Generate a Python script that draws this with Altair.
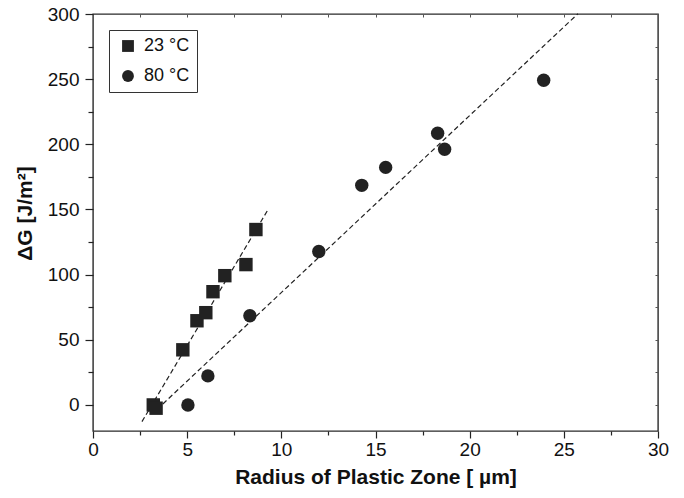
import altair as alt
import pandas as pd

# ---- data ----
series_names = ["23 °C", "80 °C"]
x_23 = [3.2, 3.35, 4.77, 5.52, 5.99, 6.37, 7.0, 8.12, 8.65]
y_23 = [0, -2.5, 42.3, 64.6, 70.8, 86.9, 99.2, 107.7, 134.6]
x_80 = [5.04, 6.1, 8.33, 11.99, 14.27, 15.54, 18.3, 18.67, 23.93]
y_80 = [0, 22.3, 68.5, 117.7, 168.5, 182.3, 208.5, 196.2, 249.2]

fit_extent_23 = [2.6, 9.3]
fit_extent_80 = [3.4, 25.75]

x_tick_values = [0, 2.5, 5, 7.5, 10, 12.5, 15, 17.5, 20, 22.5, 25, 27.5, 30]
y_tick_values = [0, 25, 50, 75, 100, 125, 150, 175, 200, 225, 250, 275, 300]

df = pd.DataFrame({
    "x": x_23 + x_80,
    "y": y_23 + y_80,
    "series": [series_names[0]] * len(x_23) + [series_names[1]] * len(x_80),
})

FONT = "Liberation Sans"
INK = "#222222"

x_scale = alt.Scale(domain=[0, 30], nice=False, zero=False)
y_scale = alt.Scale(domain=[-20, 300], nice=False, zero=False)

x_axis = alt.Axis(
    values=x_tick_values,
    labelExpr="datum.value % 5 === 0 ? datum.label : ''",
    tickSize={"condition": {"test": "datum.value % 5 === 0", "value": 7}, "value": 4},
    domain=False, grid=False, tickColor=INK, tickWidth=1.2,
    labelFont=FONT, labelFontSize=19, labelColor="#111", labelPadding=2,
    labelFlush=False, labelOverlap=False,
    title="Radius of Plastic Zone [ µm]", titleFont=FONT, titleFontSize=21,
    titleFontWeight="bold", titleColor="#111", titleY=46, titleBaseline="middle",
)
y_axis = alt.Axis(
    values=y_tick_values,
    labelExpr="datum.value % 50 === 0 ? datum.label : ''",
    tickSize={"condition": {"test": "datum.value % 50 === 0", "value": 8}, "value": 5},
    domain=False, grid=False, tickColor=INK, tickWidth=1.2,
    labelFont=FONT, labelFontSize=19, labelColor="#111", labelPadding=6,
    labelFlush=False, labelOverlap=False,
    title="ΔG [J/m²]", titleFont=FONT, titleFontSize=21, titleFontWeight="bold",
    titleColor="#111", titleX=-68, titleY=199, titleAngle=-90,
    titleAlign="center", titleBaseline="middle",
)

x_enc = alt.X("x:Q", scale=x_scale, axis=x_axis)
y_enc = alt.Y("y:Q", scale=y_scale, axis=y_axis)

points = alt.Chart(df).mark_point(filled=True, size=180, opacity=1, color=INK).encode(
    x=x_enc,
    y=y_enc,
    shape=alt.Shape(
        "series:N",
        scale=alt.Scale(domain=series_names, range=["square", "circle"]),
        legend=alt.Legend(
            title=None, orient="none", legendX=16, legendY=16,
            strokeColor="#333", fillColor="white",
            padding=7, symbolOffset=3, labelOffset=7, rowPadding=12,
            symbolSize=140, symbolFillColor=INK, symbolStrokeColor=INK,
            symbolStrokeWidth=0, labelFont=FONT, labelFontSize=18,
            labelColor="#111",
        ),
    ),
)

line_23 = alt.Chart(df).transform_filter(
    alt.datum.series == series_names[0]
).transform_regression("x", "y", extent=fit_extent_23).mark_line(
    color=INK, strokeDash=[5, 3], strokeWidth=1.2
).encode(x=x_enc, y=y_enc)

line_80 = alt.Chart(df).transform_filter(
    alt.datum.series == series_names[1]
).transform_regression("x", "y", extent=fit_extent_80).mark_line(
    color=INK, strokeDash=[5, 3], strokeWidth=1.2
).encode(x=x_enc, y=y_enc)

main = alt.layer(line_23, line_80, points)

# small inward ticks on the top and right edges
edge_ticks = alt.Chart(df).mark_point(opacity=0).encode(
    x=alt.X("x:Q", scale=x_scale, axis=alt.Axis(
        orient="top", values=x_tick_values, labels=False, title=None,
        domain=False, grid=False, tickSize=3, offset=-3, tickColor="#555")),
    y=alt.Y("y:Q", scale=y_scale, axis=alt.Axis(
        orient="right", values=y_tick_values, labels=False, title=None,
        domain=False, grid=False, tickSize=3, offset=-3, tickColor="#555")),
)

chart = alt.layer(main, edge_ticks).resolve_axis(
    x="independent", y="independent"
).properties(
    width=565, height=417,
    autosize=alt.AutoSizeParams(type="none"),
    padding={"left": 93, "top": 14, "right": 26, "bottom": 67},
    background="white",
).configure_view(stroke="#2a2a2a", strokeWidth=1.4)

chart.save("out.html", embed_options={"renderer": "svg", "actions": False})
